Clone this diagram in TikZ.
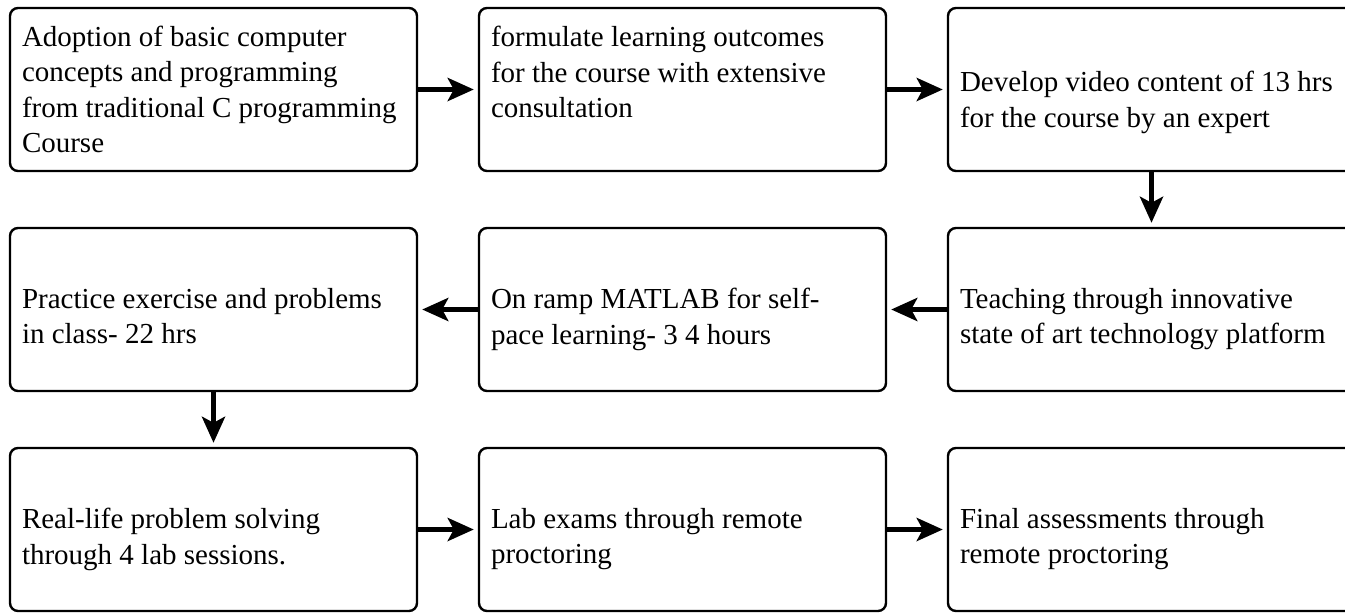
\documentclass[tikz,border=0pt]{standalone}
\usepackage{fontspec}
\setmainfont{Liberation Serif}
\usetikzlibrary{positioning,arrows.meta}

\tikzset{
  stepbox/.style={draw, line width=1.2pt, rounded corners=4pt, align=flush left,
    text width=191.5pt, inner xsep=6pt, inner ysep=2pt, minimum height=81.5pt,
    font=\fontsize{14.5pt}{17.65pt}\selectfont},
  lowbox/.style={stepbox, text depth=11pt},
  flow/.style={line width=2.8pt, -{Stealth[length=13pt,width=11.5pt,inset=3pt]}, shorten >=2pt}
}

\begin{document}
\begin{tikzpicture}[node distance=27.3pt and 29.8pt]
  \useasboundingbox (0,0) rectangle (672.5pt,-306pt);

  \node[stepbox] (adopt) at (106.75pt,-44.75pt)
    {Adoption of basic computer\\concepts and programming\\from traditional C programming\\Course};
  \node[stepbox, right=of adopt] (outcome)
    {formulate learning outcomes\\for the course with extensive\\consultation\\\mbox{}};
  \node[lowbox, text depth=8pt, right=of outcome] (video)
    {Develop video content of 13 hrs\\for the course by an expert};

  \node[lowbox, below=of video] (teach)
    {Teaching through innovative\\state of art technology platform};
  \node[lowbox, left=of teach] (onramp)
    {On ramp MATLAB for self-\\pace learning- 3 4 hours};
  \node[lowbox, left=of onramp] (practice)
    {Practice exercise and problems\\in class- 22 hrs};

  \node[lowbox, below=of practice] (reallife)
    {Real-life problem solving\\through 4 lab sessions.};
  \node[lowbox, right=of reallife] (labexam)
    {Lab exams through remote\\proctoring};
  \node[lowbox, right=of labexam] (final)
    {Final assessments through\\remote proctoring};

  % Pfeile
  \begin{scope}[flow]
    \draw (adopt) -- (outcome);
    \draw (outcome) -- (video);
    \draw (video) -- (teach);
    \draw (teach) -- (onramp);
    \draw (onramp) -- (practice);
    \draw (practice) -- (reallife);
    \draw (reallife) -- (labexam);
    \draw (labexam) -- (final);
  \end{scope}

\end{tikzpicture}
\end{document}
